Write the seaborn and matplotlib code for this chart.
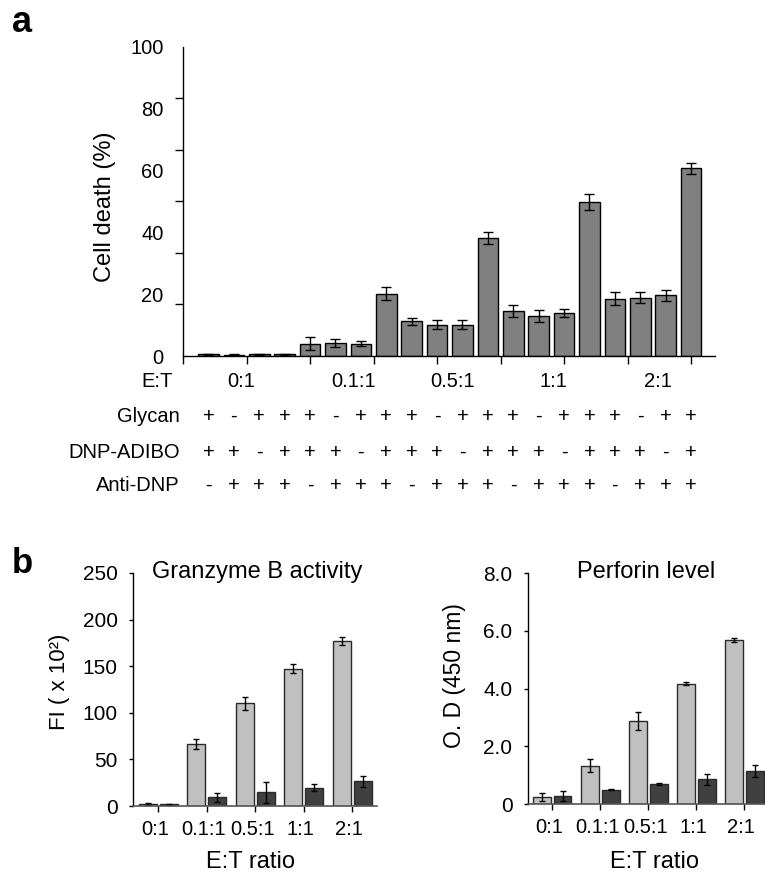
import numpy as np
import pandas as pd
import matplotlib
matplotlib.use("Agg")
import matplotlib.pyplot as plt
import seaborn as sns
from matplotlib.ticker import FixedLocator
from matplotlib.transforms import blended_transform_factory, ScaledTranslation

sns.set_style("ticks")
plt.rcParams["font.family"] = ["Liberation Sans", "DejaVu Sans"]
plt.rcParams["text.color"] = "black"
plt.rcParams["axes.labelcolor"] = "black"
plt.rcParams["xtick.color"] = "black"
plt.rcParams["ytick.color"] = "black"

# ---------------- data ----------------
et_groups = ["0:1", "0.1:1", "0.5:1", "1:1", "2:1"]

cell_death = [0.5, 0.3, 0.5, 0.5, 4.0, 4.2, 4.0, 20.2, 11.2, 10.1, 10.1, 38.1,
              14.6, 12.9, 13.8, 49.8, 18.6, 18.9, 19.6, 60.7]
cell_death_err = [0.3, 0.2, 0.3, 0.2, 2.0, 1.2, 0.9, 2.2, 1.1, 1.4, 1.4, 2.0,
                  1.9, 1.9, 1.3, 2.7, 2.2, 1.9, 1.8, 1.7]
glycan = ["+", "-", "+", "+", "+", "-", "+", "+", "+", "-", "+", "+", "+", "-", "+", "+", "+", "-", "+", "+"]
dnp_adibo = ["+", "+", "-", "+", "+", "+", "-", "+", "+", "+", "-", "+", "+", "+", "-", "+", "+", "+", "-", "+"]
anti_dnp = ["-", "+", "+", "+", "-", "+", "+", "+", "-", "+", "+", "+", "-", "+", "+", "+", "-", "+", "+", "+"]
row_names = ["Glycan", "DNP-ADIBO", "Anti-DNP"]

gzm_light = [2.1, 66.4, 110.0, 147.5, 177.0]
gzm_light_err = [1.0, 5.0, 7.0, 5.0, 4.0]
gzm_dark = [2.1, 9.3, 14.6, 19.6, 26.4]
gzm_dark_err = [0.5, 4.5, 11.0, 3.6, 6.0]

perf_light = [0.23, 1.33, 2.86, 4.17, 5.69]
perf_light_err = [0.14, 0.23, 0.31, 0.04, 0.07]
perf_dark = [0.28, 0.50, 0.69, 0.85, 1.14]
perf_dark_err = [0.16, 0.02, 0.02, 0.18, 0.20]

# ---------------- figure ----------------
W, H = 765, 872
fig = plt.figure(figsize=(W / 100, H / 100), dpi=100)

def fx(px):
    return px / W

def fy(py):
    return 1 - py / H

# ---------- panel a ----------
axA = fig.add_axes([fx(183), fy(356), fx(715 - 183), (356 - 47) / H])
df_a = pd.DataFrame({"cond": [f"c{i}" for i in range(len(cell_death))],
                     "death": cell_death})
sns.barplot(data=df_a, x="cond", y="death", color="#808080", saturation=1,
            edgecolor="black", linewidth=1, width=0.81, errorbar=None, ax=axA)
xs = [p.get_x() + p.get_width() / 2 for p in axA.patches]
axA.errorbar(xs, cell_death, yerr=cell_death_err, fmt="none", ecolor="black",
             elinewidth=1, capsize=3.5, capthick=1)
axA.set_xlim(-1.0, 19.94)
axA.set_ylim(0, 100)
axA.set_xticks([-1 + 2.5 * k for k in range(9)])
axA.set_xticklabels([])
axA.tick_params(axis="x", length=6, width=1, direction="out")
axA.yaxis.set_major_locator(FixedLocator([0, 20, 40, 60, 80, 100]))
axA.yaxis.set_minor_locator(FixedLocator([100 * k / 6 for k in range(7)]))
axA.tick_params(axis="y", which="major", length=0, pad=14, labelsize=14.5)
axA.tick_params(axis="y", which="minor", length=6, width=1, direction="out")
axA.set_xlabel("")
axA.set_ylabel("")
for s in ["top", "right"]:
    axA.spines[s].set_visible(False)
for s in ["left", "bottom"]:
    axA.spines[s].set_linewidth(1)
    axA.spines[s].set_color("black")

fig.text(fx(105), fy(207), "Cell death (%)", rotation=90, ha="center",
         va="center", fontsize=17)
fig.text(fx(22), fy(32), "a", fontsize=26, fontweight="bold", ha="center",
         va="baseline")

trans = blended_transform_factory(axA.transData, fig.transFigure)
group_pos = [1.28, 5.7, 9.6, 13.6, 17.7]
fig.text(fx(157), fy(381), "E:T", ha="center", va="center", fontsize=14.5)
for g, xp in zip(et_groups, group_pos):
    axA.text(xp, fy(381), g, transform=trans, ha="center", va="center",
             fontsize=14.5)

row_y = [416, 452, 485]
for name, signs, ry in zip(row_names, [glycan, dnp_adibo, anti_dnp], row_y):
    fig.text(fx(180), fy(ry), name, ha="right", va="center", fontsize=14.5)
    for i, s in enumerate(signs):
        axA.text(xs[i], fy(ry), s, transform=trans, ha="center", va="center",
                 fontsize=14.5)

fig.text(fx(22), fy(573), "b", fontsize=25, fontweight="bold", ha="center",
         va="baseline")

# ---------- panel b ----------
def pair_panel(ax, light, light_err, dark, dark_err, cap):
    df = pd.DataFrame({"ratio": et_groups * 2,
                       "value": light + dark,
                       "grp": ["light"] * len(light) + ["dark"] * len(dark)})
    sns.barplot(data=df, x="ratio", y="value", hue="grp",
                palette={"light": "#c0c0c0", "dark": "#404040"}, saturation=1,
                edgecolor="#2a2a2a", linewidth=1, width=0.865, gap=0.14,
                errorbar=None, legend=False, ax=ax)
    for cont, vals, errs in zip(ax.containers, [light, dark], [light_err, dark_err]):
        bx = [b.get_x() + b.get_width() / 2 for b in cont]
        ax.errorbar(bx, vals, yerr=errs, fmt="none", ecolor="black",
                    elinewidth=1, capsize=cap, capthick=1)
    ax.set_xlabel("")
    ax.set_ylabel("")
    for s in ["top", "right"]:
        ax.spines[s].set_visible(False)
    ax.spines["left"].set_linewidth(1)
    ax.spines["left"].set_color("black")
    ax.spines["bottom"].set_linewidth(1.2)
    ax.spines["bottom"].set_color("#555555")
    ax.tick_params(axis="x", length=4, width=1, pad=6, labelsize=14.5)
    ax.tick_params(axis="y", length=3, width=1, pad=8, labelsize=15)
    shift = ScaledTranslation(-3 / 100, 0, fig.dpi_scale_trans)
    for lab in ax.get_xticklabels():
        lab.set_transform(lab.get_transform() + shift)

axB1 = fig.add_axes([fx(133), fy(806), fx(377 - 133), (806 - 573) / H])
pair_panel(axB1, gzm_light, gzm_light_err, gzm_dark, gzm_dark_err, 2.5)
axB1.set_xlim(-0.52, 4.51)
axB1.set_ylim(0, 250)
axB1.set_yticks([0, 50, 100, 150, 200, 250])

axB2 = fig.add_axes([fx(527.7), fy(804), fx(241), (804 - 573) / H])
pair_panel(axB2, perf_light, perf_light_err, perf_dark, perf_dark_err, 2.5)
axB2.set_xlim(-0.51, 4.51)
axB2.set_ylim(0, 8)
axB2.set_yticks([0, 2, 4, 6, 8])
axB2.set_yticklabels(["0", "2.0", "4.0", "6.0", "8.0"])

fig.text(fx(257.5), fy(578), "Granzyme B activity", ha="center",
         va="baseline", fontsize=17)
fig.text(fx(646), fy(578), "Perforin level", ha="center", va="baseline",
         fontsize=17)
fig.text(fx(250), fy(868), "E:T ratio", ha="center", va="baseline", fontsize=17)
fig.text(fx(655), fy(868), "E:T ratio", ha="center", va="baseline", fontsize=17)
fig.text(fx(60), fy(682), "FI ( x 10²)", rotation=90, ha="center",
         va="center", fontsize=16)
fig.text(fx(455), fy(676), "O. D (450 nm)", rotation=90, ha="center",
         va="center", fontsize=16.5)

fig.savefig("out.png", dpi=100)
